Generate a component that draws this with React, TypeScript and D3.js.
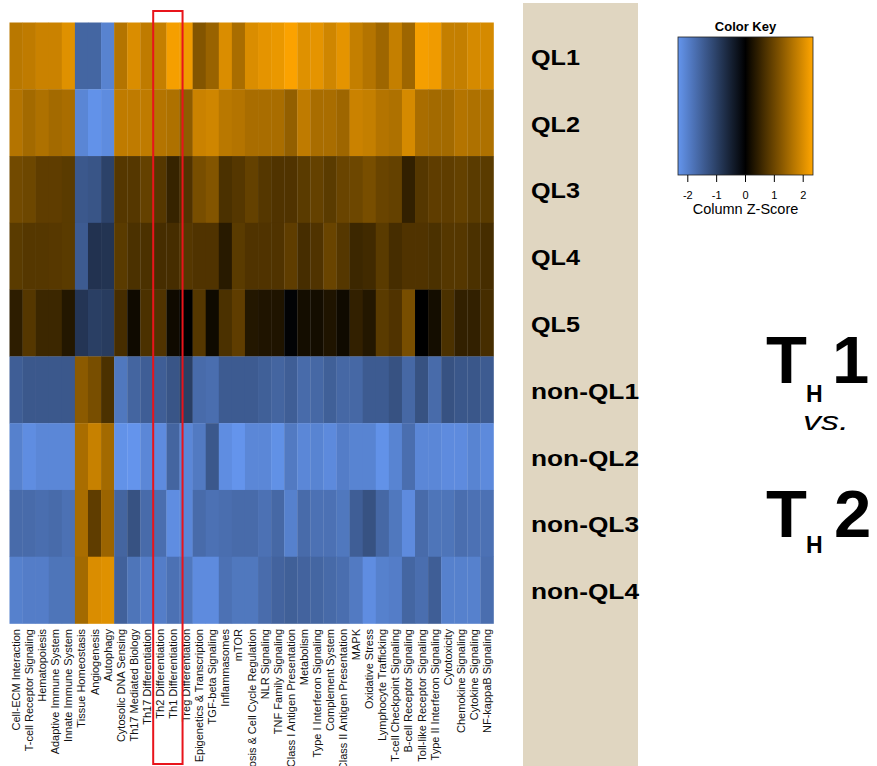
import React from "react";
import * as d3 from "d3";

const columns = [
  "Cell-ECM Interaction", "T-cell Receptor Signaling", "Hematopoiesis", "Adaptive Immune System",
  "Innate Immune System", "Tissue Homeostasis", "Angiogenesis", "Autophagy", "Cytosolic DNA Sensing",
  "Th17 Mediated Biology", "Th17 Differentiation", "Th2 Differentiation", "Th1 Differentiation",
  "Treg Differentiation", "Epigenetics & Transcription", "TGF-beta Signaling", "Inflammasomes", "mTOR",
  "Apoptosis & Cell Cycle Regulation", "NLR Signaling", "TNF Family Signaling",
  "MHC Class I Antigen Presentation", "Metabolism", "Type I Interferon Signaling", "Complement System",
  "MHC Class II Antigen Presentation", "MAPK", "Oxidative Stress", "Lymphocyte Trafficking",
  "T-cell Checkpoint Signaling", "B-cell Receptor Signaling", "Toll-like Receptor Signaling",
  "Type II Interferon Signaling", "Cytotoxicity", "Chemokine Signaling", "Cytokine Signaling",
  "NF-kappaB Signaling",
];

const rowLabels = ["QL1", "QL2", "QL3", "QL4", "QL5", "non-QL1", "non-QL2", "non-QL3", "non-QL4"];

const ql1 = [1.7, 1.75, 1.85, 1.85, 2.05, -1.6, -1.6, -2.05, 1.65, 2.0, 1.75, 1.8, 2.25, 2.2, 1.2, 1.4, 2.0, 1.55, 2.0, 2.1,
  2.15, 2.3, 2.05, 2.1, 1.9, 2.1, 1.8, 1.65, 1.45, 1.8, 1.45, 2.25, 2.2, 1.8, 1.8, 1.95, 1.95];
const ql2 = [1.65, 1.5, 1.6, 1.5, 1.55, -2.1, -2.3, -2.2, 1.75, 1.75, 1.75, 1.65, 1.6, 1.3, 1.85, 1.9, 1.7, 1.65, 1.55, 1.55,
  1.55, 1.35, 1.75, 1.55, 1.55, 1.45, 1.85, 1.8, 1.65, 1.6, 1.95, 1.55, 1.5, 1.5, 1.65, 1.6, 1.6];
const ql3 = [1.05, 1.0, 0.87, 0.87, 0.83, -1.38, -1.33, -1.04, 0.78, 0.78, 0.92, 0.78, 0.5, 0.73, 1.1, 1.2, 0.69, 0.78, 0.92, 0.78,
  0.73, 0.73, 0.83, 0.92, 0.83, 0.96, 1.0, 1.1, 0.96, 0.92, 0.46, 0.78, 0.87, 0.87, 0.92, 0.83, 0.83];
const ql4 = [0.83, 0.78, 0.78, 0.8, 0.83, -1.43, -0.79, -0.81, 0.83, 0.69, 0.69, 0.64, 0.64, 0.78, 0.73, 0.73, 0.37, 0.83, 0.73, 0.73,
  0.73, 0.87, 0.64, 0.73, 0.96, 0.78, 0.55, 0.6, 0.83, 0.64, 0.73, 0.73, 0.69, 0.78, 0.78, 0.69, 0.64];
const ql5 = [0.41, 0.78, 0.55, 0.55, 0.32, -0.84, -0.99, -0.94, 0.64, 0.14, 0.69, 0.73, 0.14, 0.0, 0.78, 0.14, 0.69, 0.87, 0.32, 0.28,
  0.28, -0.05, 0.18, 0.18, 0.28, 0.14, 0.46, 0.32, 0.83, 0.73, 1.1, 0.0, 0.18, 0.69, 0.46, 0.46, 0.64];
const nonQl1 = [-1.48, -1.38, -1.38, -1.38, -1.38, 1.28, 1.1, 0.69, -1.88, -1.58, -1.48, -1.48, -1.33, -0.99, -1.68, -1.73, -1.43, -1.43, -1.43, -1.5,
  -1.58, -1.48, -1.68, -1.63, -1.5, -1.63, -1.63, -1.43, -1.43, -1.28, -1.63, -1.28, -1.68, -1.28, -1.36, -1.36, -1.43];
const nonQl2 = [-2.02, -2.22, -2.12, -2.12, -2.12, 1.55, 1.83, 1.5, -2.29, -2.33, -2.12, -2.19, -1.58, -2.12, -1.92, -1.38, -2.22, -2.33, -2.12, -2.12,
  -2.27, -1.92, -2.12, -2.07, -2.17, -1.97, -2.07, -2.07, -2.29, -2.07, -1.73, -2.12, -2.12, -2.19, -2.19, -2.07, -2.17];
const nonQl3 = [-1.68, -1.68, -1.73, -1.68, -1.78, 1.55, 0.87, 1.42, -1.58, -1.28, -1.68, -1.73, -2.22, -2.12, -1.68, -1.78, -1.73, -1.68, -1.68, -1.78,
  -1.63, -2.02, -1.68, -1.78, -1.78, -1.88, -1.48, -1.28, -1.63, -1.88, -2.19, -1.68, -1.83, -1.83, -1.73, -1.78, -1.78];
const nonQl4 = [-2.02, -1.97, -1.97, -1.83, -1.83, 1.5, 2.0, 2.05, -1.53, -1.83, -1.97, -1.97, -1.78, -1.88, -2.19, -2.19, -1.78, -1.88, -1.88, -1.7,
  -1.56, -1.5, -1.56, -1.6, -1.66, -1.73, -1.92, -2.22, -2.02, -1.97, -1.6, -1.73, -1.48, -2.02, -2.02, -2.02, -1.73];

const rows = [ql1, ql2, ql3, ql4, ql5, nonQl1, nonQl2, nonQl3, nonQl4];
const keyTicks = [-2, -1, 0, 1, 2];
const highlighted = ["Th2 Differentiation", "Th1 Differentiation"];

const W = 877;
const H = 766;

export default function App() {
  const x = d3.scaleBand<string>().domain(columns).range([9.5, 493.5]);
  const y = d3.scaleBand<string>().domain(rowLabels).range([22.5, 623.5]);
  const color = d3
    .scaleLinear<string>()
    .domain([-2.34, 0, 2.34])
    .range(["#6495ED", "#000000", "#FFA500"])
    .clamp(true);
  const kx = d3.scaleLinear().domain([-2.34, 2.34]).range([678, 813]);
  const gradStops = d3.range(0, 21).map((i) => -2.34 + (i * 4.68) / 20);

  const hx0 = x(highlighted[0])! - 0.2;
  const hx1 = x(highlighted[1])! + x.bandwidth() + 3;

  const sans = "'Liberation Sans', Arial, Helvetica, sans-serif";

  return (
    <svg
      width={W}
      height={H}
      style={{ position: "absolute", left: 0, top: 0, background: "#fff", fontFamily: sans }}
    >
      <defs>
        <linearGradient id="keygrad" x1="0" x2="1" y1="0" y2="0">
          {gradStops.map((v, i) => (
            <stop key={i} offset={`${(i / 20) * 100}%`} stopColor={color(v)} />
          ))}
        </linearGradient>
      </defs>
      <rect x={0} y={0} width={W} height={H} fill="#fff" />
      {/* beige label panel */}
      <rect x={523} y={3} width={115} height={H} fill="#E0D6C1" />

      {/* heatmap cells */}
      {rows.map((vals, ri) =>
        vals.map((v, ci) => (
          <rect
            key={`${ri}-${ci}`}
            x={x(columns[ci])!}
            y={y(rowLabels[ri])!}
            width={x.bandwidth() + 0.3}
            height={y.bandwidth() + 0.3}
            fill={color(v)}
          />
        ))
      )}

      {/* column labels */}
      {columns.map((c) => {
        const cx = x(c)! + x.bandwidth() / 2;
        return (
          <text
            key={c}
            transform={`translate(${cx + 4},629) rotate(-90)`}
            textAnchor="end"
            fontSize={11}
            fill="#111"
          >
            {c}
          </text>
        );
      })}

      {/* row labels */}
      {rowLabels.map((r) => (
        <text
          key={r}
          x={531}
          y={y(r)! + y.bandwidth() / 2 + 9}
          fontSize={22}
          fontWeight="bold"
          fill="#000"
          textLength={r.length === 3 ? 49 : 108}
          lengthAdjust="spacingAndGlyphs"
        >
          {r}
        </text>
      ))}

      {/* red highlight box */}
      <rect x={hx0} y={11} width={hx1 - hx0} height={753} fill="none" stroke="#E8141B" strokeWidth={2} />

      {/* color key */}
      <text x={745.5} y={31} textAnchor="middle" fontSize={13} fontWeight="bold" fill="#000">
        Color Key
      </text>
      <rect x={678} y={37} width={135} height={138} fill="url(#keygrad)" stroke="#222" strokeWidth={0.8} />
      {keyTicks.map((t) => (
        <g key={t}>
          <line x1={kx(t)} x2={kx(t)} y1={175} y2={182} stroke="#000" strokeWidth={1} />
          <text x={kx(t)} y={198.5} textAnchor="middle" fontSize={11} fill="#000">
            {t}
          </text>
        </g>
      ))}
      <text x={745.5} y={214} textAnchor="middle" fontSize={14.5} fill="#000">
        Column Z-Score
      </text>

      {/* TH1 vs TH2 */}
      <g fontFamily={sans} fontWeight="bold" fill="#000">
        <text x={766} y={383} fontSize={67}>T</text>
        <text x={806} y={402} fontSize={23}>H</text>
        <text x={832} y={383} fontSize={67}>1</text>
        <text x={766} y={537} fontSize={67}>T</text>
        <text x={806} y={553} fontSize={23}>H</text>
        <text x={834} y={537} fontSize={67}>2</text>
      </g>
      <text x={803} y={430} fontSize={26} fontStyle="italic" fill="#000" textLength={46} lengthAdjust="spacingAndGlyphs">
        vs.
      </text>
    </svg>
  );
}
